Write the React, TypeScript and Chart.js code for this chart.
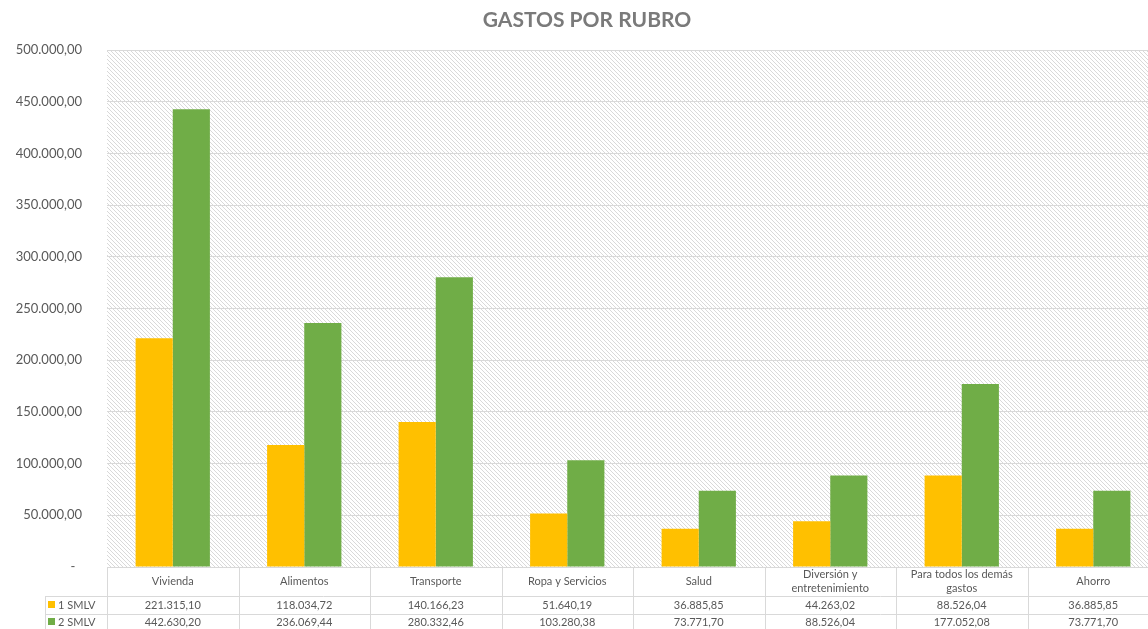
import React, { useEffect, useRef } from "react";
import { Chart, registerables } from "chart.js";

Chart.register(...registerables);

const chartTitle = "GASTOS POR RUBRO";
const categories: string[][] = [
  ["Vivienda"],
  ["Alimentos"],
  ["Transporte"],
  ["Ropa y Servicios"],
  ["Salud"],
  ["Diversión y", "entretenimiento"],
  ["Para todos los demás", "gastos"],
  ["Ahorro"],
];
const seriesNames = ["1 SMLV", "2 SMLV"];
const seriesColors = ["#FFC000", "#70AD47"];
const smlv1 = [221315.1, 118034.72, 140166.23, 51640.19, 36885.85, 44263.02, 88526.04, 36885.85];
const smlv2 = [442630.2, 236069.44, 280332.46, 103280.38, 73771.7, 88526.04, 177052.08, 73771.7];
const yMin = 0;
const yMax = 500000;
const yStep = 50000;

const FONT = "Lato, 'Open Sans', sans-serif";
const TEXT = "#595959";
const LINE = "#d9d9d9";

function fmt(v: number): string {
  const [i, d] = v.toFixed(2).split(".");
  return i.replace(/\B(?=(\d{3})+(?!\d))/g, ".") + "," + d;
}

function makeHatch(): CanvasPattern | string {
  const c = document.createElement("canvas");
  c.width = 8;
  c.height = 8;
  const g = c.getContext("2d");
  if (!g) return "#fff";
  g.fillStyle = "#ffffff";
  g.fillRect(0, 0, 8, 8);
  g.strokeStyle = "#d9d9d9";
  g.lineWidth = 1;
  for (let k = -8; k <= 8; k += 4) {
    g.beginPath();
    g.moveTo(k, 0);
    g.lineTo(k + 8, 8);
    g.stroke();
  }
  const p = g.createPattern(c, "repeat");
  return p || "#fff";
}

const hatchPlugin = {
  id: "hatchBg",
  beforeDraw(chart: any) {
    const { ctx, chartArea } = chart;
    ctx.save();
    ctx.fillStyle = makeHatch();
    ctx.fillRect(chartArea.left, chartArea.top, chartArea.right - chartArea.left, chartArea.bottom - chartArea.top);
    ctx.restore();
  },
};

const titlePlugin = {
  id: "customTitle",
  afterDraw(chart: any) {
    const { ctx } = chart;
    ctx.save();
    ctx.font = `bold 21px ${FONT}`;
    ctx.fillStyle = "#7a7a7a";
    ctx.textAlign = "center";
    ctx.textBaseline = "middle";
    ctx.fillText(chartTitle, 587, 20);
    ctx.restore();
  },
};

const tablePlugin = {
  id: "dataTable",
  afterDraw(chart: any) {
    const { ctx, chartArea, scales } = chart;
    const { left, right, bottom } = chartArea;
    const xs = scales.x;
    const n = categories.length;
    const w = (right - left) / n;
    const H = chart.height;
    const r1 = bottom + 29;
    const r2 = bottom + 47;
    const legendLeft = 45;
    ctx.save();
    ctx.strokeStyle = LINE;
    ctx.lineWidth = 1;
    const line = (x1: number, y1: number, x2: number, y2: number) => {
      ctx.beginPath();
      ctx.moveTo(x1, y1);
      ctx.lineTo(x2, y2);
      ctx.stroke();
    };
    line(left, Math.round(bottom) + 0.5, right, Math.round(bottom) + 0.5);
    line(legendLeft, r1 + 0.5, right, r1 + 0.5);
    line(legendLeft, r2 + 0.5, right, r2 + 0.5);
    for (let i = 0; i <= n; i++) {
      const x = Math.round(left + i * w) + 0.5;
      line(x, bottom, x, H);
    }
    line(legendLeft + 0.5, r1, legendLeft + 0.5, H);

    ctx.fillStyle = TEXT;
    ctx.font = `11px ${FONT}`;
    ctx.textAlign = "center";
    ctx.textBaseline = "middle";
    categories.forEach((lines, i) => {
      const cx = xs.getPixelForValue(i);
      const mid = bottom + 14;
      if (lines.length === 1) {
        ctx.fillText(lines[0], cx, mid);
      } else {
        ctx.fillText(lines[0], cx, mid - 7);
        ctx.fillText(lines[1], cx, mid + 7);
      }
    });
    const rows = [smlv1, smlv2];
    const rowMid = [r1 + 9, r2 + 8];
    rows.forEach((vals, r) => {
      vals.forEach((v, i) => {
        ctx.fillText(fmt(v), xs.getPixelForValue(i), rowMid[r]);
      });
      ctx.fillStyle = seriesColors[r];
      ctx.fillRect(legendLeft + 3, rowMid[r] - 4, 7, 7);
      ctx.fillStyle = TEXT;
      ctx.textAlign = "left";
      ctx.fillText(seriesNames[r], legendLeft + 13, rowMid[r]);
      ctx.textAlign = "center";
    });
    ctx.restore();
  },
};

export default function App() {
  const ref = useRef<HTMLCanvasElement | null>(null);
  useEffect(() => {
    document.body.style.margin = "0";
    document.body.style.overflow = "hidden";
    if (!ref.current) return;
    const chart = new Chart(ref.current, {
      type: "bar",
      data: {
        labels: categories.map((c) => c.join(" ")),
        datasets: [
          { label: seriesNames[0], data: smlv1, backgroundColor: seriesColors[0], borderWidth: 0 },
          { label: seriesNames[1], data: smlv2, backgroundColor: seriesColors[1], borderWidth: 0 },
        ],
      },
      options: {
        responsive: false,
        animation: false,
        layout: { padding: { top: 50, bottom: 62, left: 0, right: 3 } },
        datasets: { bar: { categoryPercentage: 0.565, barPercentage: 1 } },
        plugins: { legend: { display: false }, tooltip: { enabled: false }, title: { display: false } },
        scales: {
          x: { display: false, grid: { display: false } },
          y: {
            min: yMin,
            max: yMax,
            ticks: {
              stepSize: yStep,
              padding: 25,
              color: TEXT,
              font: { family: FONT, size: 13 },
              callback: (v: any) => (Number(v) === 0 ? "-  " : fmt(Number(v))),
            },
            grid: { color: LINE, drawTicks: false, lineWidth: 1 },
            border: { display: false },
            afterFit: (s: any) => {
              s.width = 107;
            },
          },
        },
      },
      plugins: [hatchPlugin, tablePlugin, titlePlugin],
    });
    return () => chart.destroy();
  }, []);
  return (
    <div style={{ width: 1148, height: 629, overflow: "hidden", background: "#fff" }}>
      <canvas ref={ref} width={1162} height={629} style={{ display: "block" }} />
    </div>
  );
}
